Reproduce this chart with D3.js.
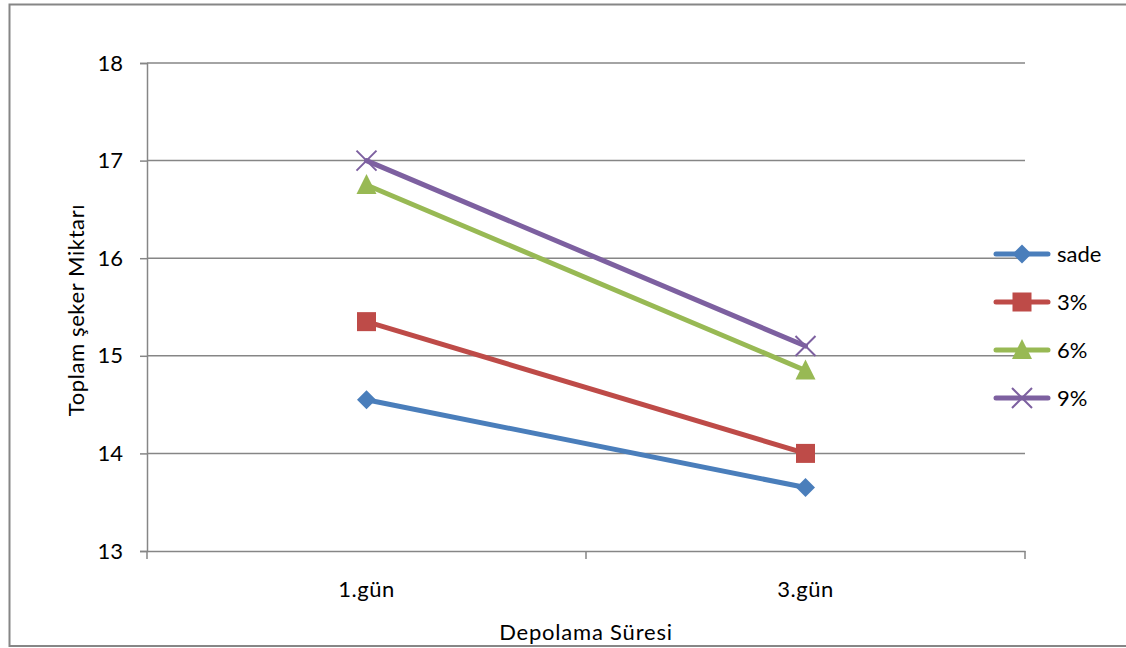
<!DOCTYPE html>
<html>
<head>
<meta charset="utf-8">
<script src="https://cdn.jsdelivr.net/npm/d3@7"></script>
<style>
  html, body { margin: 0; padding: 0; background: #fff; }
  svg { display: block; font-family: Lato, "Open Sans", sans-serif; }
</style>
</head>
<body>
<svg id="chart" width="1126" height="648"></svg>
<script>
// Storage days on the x axis
const days = ["1.gün", "3.gün"];
// Total sugar per formulation
const seriesNames = ["sade", "3%", "6%", "9%"];
const sade = [14.55, 13.65];
const pct3 = [15.35, 14.0];
const pct6 = [16.75, 14.85];
const pct9 = [17.0, 15.1];
const yTicks = [13, 14, 15, 16, 17, 18];

const colors = ["#4a7ebb", "#be4b48", "#98b954", "#7d60a0"];
const symbols = ["diamond", "square", "triangle", "cross"];
const values = [sade, pct3, pct6, pct9];

const FONT = 22;
const svg = d3.select("#chart");
const plot = { left: 147, right: 1025, top: 63, bottom: 551 };

// Chart frame
svg.append("rect")
  .attr("x", 9.5).attr("y", 4.5)
  .attr("width", 1140).attr("height", 641.5)
  .attr("fill", "none").attr("stroke", "#868686").attr("stroke-width", 2);

const x = d3.scaleBand().domain(days).range([plot.left, plot.right]);
const y = d3.scaleLinear().domain([13, 18]).range([plot.bottom, plot.top]);

// Horizontal gridlines
svg.append("g").selectAll("line").data(yTicks.slice(1)).join("line")
  .attr("x1", plot.left).attr("x2", plot.right)
  .attr("y1", d => y(d)).attr("y2", d => y(d))
  .attr("stroke", "#868686").attr("stroke-width", 1.5);

// Y axis
const yAxis = svg.append("g")
  .attr("transform", `translate(${plot.left},0)`)
  .call(d3.axisLeft(y).tickValues(yTicks).tickSize(7).tickPadding(17).tickFormat(d3.format("d")));
yAxis.select(".domain").attr("stroke", "#868686").attr("stroke-width", 1.5);
yAxis.selectAll(".tick line").attr("stroke", "#868686").attr("stroke-width", 1.5);
yAxis.selectAll("text").attr("font-size", FONT).attr("fill", "#000")
  .attr("font-family", "Lato, sans-serif");

// X axis
const xAxis = svg.append("g")
  .attr("transform", `translate(0,${plot.bottom})`)
  .call(d3.axisBottom(x).tickSize(0).tickPadding(30));
xAxis.select(".domain").attr("stroke", "#868686").attr("stroke-width", 1.5);
xAxis.selectAll("text").attr("font-size", FONT).attr("fill", "#000")
  .attr("font-family", "Lato, sans-serif").attr("letter-spacing", 0.5);
// Category separator ticks
const sepTicks = [plot.left, plot.left + x.bandwidth(), plot.right];
svg.append("g").selectAll("line").data(sepTicks).join("line")
  .attr("x1", d => d).attr("x2", d => d)
  .attr("y1", plot.bottom).attr("y2", plot.bottom + 8)
  .attr("stroke", "#868686").attr("stroke-width", 1.5);

// Axis titles
svg.append("text")
  .attr("x", (plot.left + plot.right) / 2).attr("y", 640)
  .attr("text-anchor", "middle").attr("font-size", FONT).attr("letter-spacing", 0.8)
  .text("Depolama Süresi");
svg.append("text")
  .attr("transform", `translate(84,${(plot.top + plot.bottom) / 2 + 3}) rotate(-90)`)
  .attr("text-anchor", "middle").attr("font-size", FONT).attr("letter-spacing", 0.6)
  .text("Toplam şeker Miktarı");

const cx = d => x(d) + x.bandwidth() / 2;
const line = d3.line().x((d, i) => cx(days[i])).y(d => y(d));

function drawMarker(g, kind, color, px, py) {
  if (kind === "cross") {
    const s = 10;
    g.append("path")
      .attr("d", `M${px - s},${py - s}L${px + s},${py + s}M${px - s},${py + s}L${px + s},${py - s}`)
      .attr("stroke", color).attr("stroke-width", 2).attr("fill", "none");
  } else if (kind === "diamond") {
    const s = 9.5;
    g.append("path")
      .attr("d", `M${px},${py - s}L${px + s},${py}L${px},${py + s}L${px - s},${py}Z`)
      .attr("fill", color);
  } else if (kind === "square") {
    const s = 9.5;
    g.append("rect").attr("x", px - s).attr("y", py - s)
      .attr("width", 2 * s).attr("height", 2 * s).attr("fill", color);
  } else if (kind === "triangle") {
    const s = 10;
    g.append("path")
      .attr("d", `M${px},${py - s - 1}L${px + s},${py + s - 1}L${px - s},${py + s - 1}Z`)
      .attr("fill", color);
  }
}

// Series lines and markers
values.forEach((vals, k) => {
  const g = svg.append("g");
  g.append("path").datum(vals)
    .attr("d", line)
    .attr("fill", "none").attr("stroke", colors[k])
    .attr("stroke-width", 5).attr("stroke-linecap", "round");
  vals.forEach((v, i) => drawMarker(g, symbols[k], colors[k], cx(days[i]), y(v)));
});

// Legend
const legend = svg.append("g");
seriesNames.forEach((name, k) => {
  const ly = 254 + k * 48;
  const g = legend.append("g");
  g.append("line").attr("x1", 996).attr("x2", 1048)
    .attr("y1", ly).attr("y2", ly)
    .attr("stroke", colors[k]).attr("stroke-width", 5).attr("stroke-linecap", "round");
  drawMarker(g, symbols[k], colors[k], 1022, ly);
  g.append("text").attr("x", 1057).attr("y", ly + 8)
    .attr("font-size", FONT).text(name);
});
</script>
</body>
</html>
